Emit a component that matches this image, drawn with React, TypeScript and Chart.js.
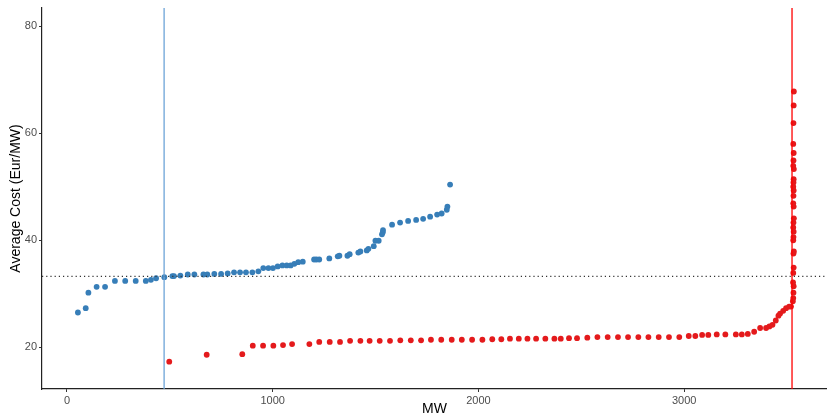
import React, { useEffect, useRef } from 'react';
import { Chart, registerables } from 'chart.js';
Chart.register(...registerables);

const blueMW = [53, 91, 104, 144, 185, 233, 283, 334, 383, 408, 433, 473, 512, 520, 551, 587, 619, 663, 682, 716, 749, 781, 812, 841, 870, 901, 930, 954, 979, 1001, 1024, 1047, 1068, 1087, 1105, 1124, 1146, 1201, 1212, 1226, 1275, 1316, 1324, 1363, 1374, 1416, 1426, 1457, 1465, 1491, 1499, 1515, 1531, 1535, 1536, 1580, 1619, 1658, 1697, 1731, 1765, 1799, 1821, 1846, 1849, 1862];
const blueCost = [26.5, 27.3, 30.2, 31.3, 31.3, 32.4, 32.4, 32.4, 32.4, 32.6, 32.9, 33.1, 33.3, 33.3, 33.4, 33.6, 33.6, 33.6, 33.6, 33.7, 33.7, 33.8, 34.0, 34.0, 34.0, 34.0, 34.2, 34.8, 34.8, 34.8, 35.1, 35.3, 35.3, 35.3, 35.6, 35.9, 36.0, 36.4, 36.4, 36.4, 36.6, 37.0, 37.1, 37.1, 37.4, 37.7, 37.9, 38.1, 38.4, 38.9, 39.9, 39.9, 41.1, 41.5, 41.9, 42.9, 43.3, 43.6, 43.8, 44.0, 44.4, 44.8, 45.0, 45.7, 46.3, 50.4];

const redMW = [497, 679, 852, 903, 953, 1003, 1050, 1094, 1178, 1226, 1277, 1327, 1376, 1426, 1471, 1520, 1570, 1620, 1671, 1721, 1769, 1819, 1870, 1919, 1969, 2019, 2067, 2111, 2153, 2196, 2238, 2280, 2325, 2369, 2400, 2440, 2479, 2529, 2578, 2628, 2678, 2727, 2777, 2826, 2876, 2926, 2976, 3022, 3054, 3087, 3117, 3158, 3200, 3251, 3280, 3309, 3340, 3369, 3398, 3414, 3429, 3445, 3458, 3466, 3481, 3495, 3510, 3519,
  3528, 3530, 3531, 3532, 3529, 3530, 3532, 3531, 3533, 3530, 3531, 3532, 3530, 3531, 3533, 3532, 3530, 3531, 3532, 3530, 3531, 3532, 3533, 3530, 3531, 3532, 3530, 3531, 3532, 3533];
const redCost = [17.3, 18.6, 18.7, 20.3, 20.3, 20.3, 20.4, 20.6, 20.6, 21.0, 21.0, 21.0, 21.2, 21.2, 21.2, 21.2, 21.2, 21.3, 21.3, 21.3, 21.4, 21.4, 21.4, 21.4, 21.4, 21.4, 21.5, 21.5, 21.6, 21.6, 21.6, 21.6, 21.6, 21.6, 21.6, 21.7, 21.7, 21.8, 21.9, 21.9, 21.9, 21.9, 21.9, 21.9, 21.9, 21.9, 21.9, 22.1, 22.1, 22.3, 22.3, 22.4, 22.4, 22.4, 22.4, 22.5, 22.9, 23.6, 23.6, 23.9, 24.2, 25.0, 25.9, 26.3, 26.8, 27.3, 27.6, 27.6,
  28.6, 29.2, 30.2, 31.4, 32.1, 33.9, 34.9, 37.5, 37.9, 40.0, 40.6, 41.6, 42.4, 43.3, 44.1, 46.3, 46.9, 48.3, 49.3, 50.0, 50.8, 51.4, 53.3, 53.9, 54.9, 56.3, 58.0, 61.9, 65.2, 67.8];

const xTicks = [0, 1000, 2000, 3000];
const yTicks = [20, 40, 60, 80];
const xRange = [-121.5, 3694];
const yRange = [12.2, 83.4];
const blueLineMW = 472;
const redLineMW = 3524;
const refCost = 33.25;

const FONT = '"Liberation Sans", Arial, Helvetica, sans-serif';

export default function App() {
  const ref = useRef<HTMLCanvasElement | null>(null);
  useEffect(() => {
    if (!ref.current) return;
    const pts = (xs: number[], ys: number[]) => xs.map((x, i) => ({ x, y: ys[i] }));
    const chart = new Chart(ref.current, {
      type: 'scatter',
      data: {
        datasets: [
          {
            type: 'line',
            data: [{ x: blueLineMW, y: yRange[0] }, { x: blueLineMW, y: yRange[1] }],
            borderColor: '#6ca4d8',
            borderWidth: 1.3,
            pointRadius: 0,
            showLine: true,
          } as any,
          {
            type: 'line',
            data: [{ x: redLineMW, y: yRange[0] }, { x: redLineMW, y: yRange[1] }],
            borderColor: '#ff0000',
            borderWidth: 1.3,
            pointRadius: 0,
            showLine: true,
          } as any,
          {
            type: 'line',
            data: [{ x: xRange[0], y: refCost }, { x: xRange[1], y: refCost }],
            borderColor: '#333333',
            borderWidth: 1.1,
            borderDash: [1.2, 3],
            pointRadius: 0,
            showLine: true,
          } as any,
          {
            data: pts(blueMW, blueCost),
            backgroundColor: '#377eb8',
            borderColor: '#377eb8',
            pointRadius: 2.9,
            borderWidth: 0,
          },
          {
            data: pts(redMW, redCost),
            backgroundColor: '#e41a1c',
            borderColor: '#e41a1c',
            pointRadius: 2.9,
            borderWidth: 0,
          },
        ],
      },
      options: {
        animation: false,
        responsive: false,
        maintainAspectRatio: false,
        layout: { autoPadding: false, padding: { top: 8, right: 0, left: 0, bottom: 0 } },
        plugins: { legend: { display: false }, tooltip: { enabled: false } },
        scales: {
          x: {
            type: 'linear',
            min: xRange[0],
            max: xRange[1],
            afterBuildTicks: (s: any) => { s.ticks = xTicks.map((v) => ({ value: v })); },
            afterFit: (s: any) => { s.height = 29; s.paddingLeft = 0; s.paddingRight = 0; },
            grid: { display: true, drawOnChartArea: false, drawTicks: true, tickLength: 3, color: '#333333' },
            border: { display: true, color: '#222222', width: 1.2 },
            ticks: { color: '#4d4d4d', font: { family: FONT, size: 11 }, padding: 2, maxRotation: 0, callback: (v: any) => String(v) },
            title: { display: true, text: 'MW', color: '#000000', font: { family: FONT, size: 14 }, padding: { top: 2, bottom: 0 } },
          },
          y: {
            type: 'linear',
            min: yRange[0],
            max: yRange[1],
            afterBuildTicks: (s: any) => { s.ticks = yTicks.map((v) => ({ value: v })); },
            afterFit: (s: any) => { s.width = 42; s.paddingTop = 0; s.paddingBottom = 0; },
            grid: { display: true, drawOnChartArea: false, drawTicks: true, tickLength: 3, color: '#333333' },
            border: { display: true, color: '#222222', width: 1.2 },
            ticks: { color: '#4d4d4d', font: { family: FONT, size: 11 }, padding: 2, callback: (v: any) => String(v) },
            title: { display: true, text: 'Average Cost (Eur/MW)', color: '#000000', font: { family: FONT, size: 14 }, padding: { top: 8, bottom: 0 } },
          },
        },
      },
    });
    return () => chart.destroy();
  }, []);
  return (
    <div style={{ position: 'absolute', left: 0, top: 0, width: 827, height: 418, background: '#fff' }}>
      <canvas ref={ref} width={827} height={418} style={{ width: 827, height: 418 }} />
    </div>
  );
}
